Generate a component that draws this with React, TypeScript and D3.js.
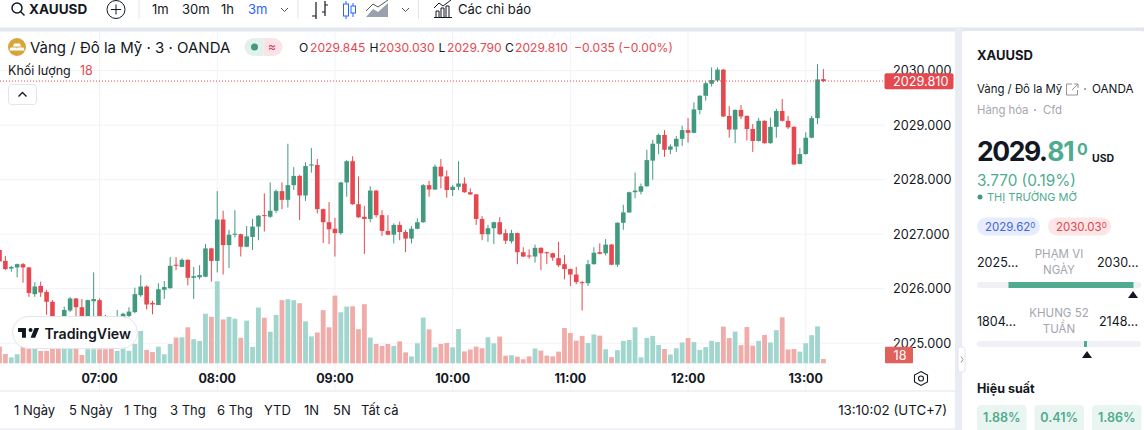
import * as d3 from "d3";

// 3 minute bars, first one at 06:09
const startMinute = 369;
const barMinutes = 3;

const opens = [
  2026.71, 2026.51, 2026.37, 2026.39, 2026.45, 2026.39, 2025.9, 2026.05, 2025.94, 2025.76,
  2025.46, 2025.46, 2025.6, 2025.82, 2025.66, 2025.46, 2025.77, 2025.79, 2025.5, 2025.39,
  2025.33, 2025.46, 2025.5, 2025.57, 2025.88, 2026.04, 2025.74, 2025.7, 2025.98, 2026.01,
  2026.44, 2026.4, 2026.53, 2026.2, 2026.21, 2026.22, 2026.74, 2026.51, 2027.27, 2026.8,
  2026.99, 2027.0, 2026.77, 2026.95, 2027.14, 2027.35, 2027.32, 2027.43, 2027.79, 2027.63,
  2027.9, 2028.07, 2027.71, 2028.26, 2028.27, 2027.46, 2027.22, 2027.1, 2027.02, 2027.95,
  2028.34, 2027.55, 2027.32, 2027.28, 2027.8, 2027.35, 2027.06, 2026.99, 2027.17, 2027.04,
  2026.92, 2027.1, 2027.22, 2027.9, 2027.82, 2028.24, 2028.06, 2027.81, 2027.87, 2027.93,
  2027.77, 2027.73, 2027.28, 2027.0, 2027.11, 2027.22, 2027.02, 2026.87, 2027.02, 2026.67,
  2026.61, 2026.59, 2026.75, 2026.67, 2026.65, 2026.56, 2026.45, 2026.36, 2026.26, 2026.12,
  2026.1, 2026.45, 2026.67, 2026.65, 2026.81, 2026.44, 2027.21, 2027.4, 2027.77, 2027.78,
  2027.88, 2028.35, 2028.66, 2028.82, 2028.55, 2028.61, 2028.75, 2028.91, 2028.86, 2029.28,
  2029.54, 2029.76, 2029.82, 2030.02, 2029.17, 2028.92, 2029.28, 2029.17, 2028.93, 2028.71,
  2029.08, 2028.67, 2028.97, 2029.26, 2029.08, 2028.97, 2028.29, 2028.47, 2028.77, 2029.13,
  2029.845,
];

const highs = [
  2026.72, 2026.6, 2026.42, 2026.46, 2026.47, 2026.4, 2026.12, 2026.13, 2025.98, 2025.79,
  2025.47, 2025.67, 2025.85, 2025.83, 2025.81, 2025.8, 2026.3, 2025.82, 2025.52, 2025.41,
  2025.61, 2025.56, 2025.66, 2026.02, 2026.25, 2026.06, 2025.78, 2026.1, 2026.14, 2026.58,
  2026.58, 2026.56, 2026.54, 2026.4, 2026.43, 2026.82, 2026.75, 2027.79, 2027.43, 2027.08,
  2027.44, 2027.01, 2027.15, 2027.28, 2027.35, 2027.75, 2027.95, 2027.82, 2027.95, 2028.66,
  2028.23, 2028.09, 2028.32, 2028.58, 2028.38, 2027.47, 2027.59, 2027.3, 2027.96, 2028.36,
  2028.43, 2028.06, 2027.52, 2027.88, 2027.81, 2027.44, 2027.35, 2027.2, 2027.23, 2027.08,
  2027.15, 2027.29, 2027.92, 2027.98, 2028.28, 2028.38, 2028.17, 2027.9, 2028.34, 2028.04,
  2027.84, 2027.74, 2027.33, 2027.17, 2027.23, 2027.31, 2027.09, 2027.08, 2027.03, 2026.76,
  2026.72, 2026.81, 2026.76, 2026.68, 2026.66, 2026.86, 2026.62, 2026.37, 2026.4, 2026.14,
  2026.53, 2026.76, 2026.83, 2026.91, 2026.82, 2027.22, 2027.54, 2027.78, 2028.13, 2027.93,
  2028.55, 2028.73, 2028.85, 2028.91, 2028.65, 2028.8, 2028.99, 2029.13, 2029.42, 2029.55,
  2029.8, 2030.06, 2030.06, 2030.03, 2029.35, 2029.29, 2029.37, 2029.18, 2029.02, 2029.13,
  2029.09, 2029.14, 2029.3, 2029.48, 2029.17, 2028.98, 2028.58, 2028.87, 2029.17, 2030.12,
  2030.03,
];

const lows = [
  2026.48, 2026.34, 2026.31, 2026.21, 2026.11, 2025.85, 2025.85, 2025.85, 2025.52, 2025.39,
  2025.28, 2025.42, 2025.57, 2025.49, 2025.43, 2025.43, 2025.49, 2025.48, 2025.35, 2025.28,
  2025.28, 2025.42, 2025.48, 2025.55, 2025.85, 2025.62, 2025.53, 2025.7, 2025.81, 2026.0,
  2026.34, 2026.4, 2026.06, 2025.81, 2026.17, 2026.21, 2026.13, 2026.3, 2026.26, 2026.38,
  2026.94, 2026.59, 2026.76, 2026.71, 2026.89, 2027.05, 2027.3, 2027.39, 2027.46, 2027.49,
  2027.81, 2027.26, 2027.61, 2028.13, 2027.38, 2026.84, 2026.82, 2026.59, 2026.99, 2027.69,
  2027.54, 2027.3, 2026.64, 2027.22, 2027.31, 2026.97, 2026.98, 2026.83, 2026.89, 2026.67,
  2026.83, 2027.09, 2027.21, 2027.69, 2027.81, 2027.84, 2027.67, 2027.7, 2027.81, 2027.76,
  2027.72, 2027.17, 2026.89, 2026.86, 2026.82, 2026.99, 2026.82, 2026.83, 2026.45, 2026.58,
  2026.55, 2026.48, 2026.34, 2026.45, 2026.51, 2026.4, 2026.17, 2026.05, 2026.08, 2025.6,
  2026.05, 2026.44, 2026.63, 2026.61, 2026.43, 2026.4, 2027.08, 2027.39, 2027.66, 2027.73,
  2027.87, 2028.0, 2028.47, 2028.42, 2028.47, 2028.51, 2028.62, 2028.68, 2028.85, 2029.2,
  2029.45, 2029.71, 2029.79, 2029.15, 2028.77, 2028.67, 2029.11, 2028.72, 2028.51, 2028.7,
  2028.66, 2028.66, 2028.77, 2029.07, 2028.93, 2028.27, 2028.28, 2028.46, 2028.76, 2029.02,
  2029.79,
];

const closes = [
  2026.5, 2026.36, 2026.4, 2026.45, 2026.39, 2025.92, 2026.04, 2025.93, 2025.76, 2025.46,
  2025.33, 2025.61, 2025.82, 2025.66, 2025.48, 2025.79, 2025.81, 2025.5, 2025.39, 2025.33,
  2025.44, 2025.54, 2025.58, 2025.9, 2026.04, 2025.71, 2025.71, 2025.99, 2026.03, 2026.42,
  2026.42, 2026.53, 2026.2, 2026.23, 2026.25, 2026.74, 2026.51, 2027.27, 2026.8, 2026.99,
  2027.01, 2026.77, 2026.96, 2027.14, 2027.34, 2027.34, 2027.43, 2027.79, 2027.63, 2027.9,
  2028.07, 2027.71, 2028.25, 2028.28, 2027.46, 2027.22, 2027.09, 2027.02, 2027.95, 2028.34,
  2027.55, 2027.31, 2027.28, 2027.8, 2027.35, 2027.06, 2026.99, 2027.17, 2027.04, 2026.92,
  2027.1, 2027.22, 2027.9, 2027.82, 2028.24, 2028.06, 2027.81, 2027.87, 2027.93, 2027.77,
  2027.73, 2027.28, 2027.0, 2027.11, 2027.22, 2027.0, 2026.88, 2027.02, 2026.67, 2026.59,
  2026.59, 2026.75, 2026.65, 2026.65, 2026.57, 2026.43, 2026.36, 2026.26, 2026.12, 2026.1,
  2026.45, 2026.66, 2026.64, 2026.81, 2026.44, 2027.21, 2027.4, 2027.77, 2027.8, 2027.88,
  2028.36, 2028.66, 2028.82, 2028.55, 2028.61, 2028.75, 2028.91, 2028.86, 2029.29, 2029.54,
  2029.77, 2029.83, 2030.02, 2029.16, 2028.92, 2029.28, 2029.16, 2028.93, 2028.71, 2029.08,
  2028.67, 2028.97, 2029.26, 2029.08, 2028.96, 2028.28, 2028.47, 2028.77, 2029.13, 2029.84,
  2029.81,
];

const volumes = [
  70, 39, 25, 38, 71, 71, 60, 52, 52, 62,
  62, 62, 62, 62, 35, 59, 59, 59, 59, 62,
  52, 62, 52, 81, 136, 56, 47, 70, 38, 81,
  108, 109, 151, 101, 94, 208, 195, 344, 184, 195,
  187, 107, 179, 69, 234, 191, 132, 203, 265, 269,
  265, 252, 176, 113, 129, 223, 151, 284, 214, 238,
  239, 143, 248, 108, 81, 73, 81, 73, 92, 46,
  29, 84, 192, 142, 67, 81, 85, 67, 144, 50,
  58, 70, 63, 109, 84, 112, 32, 34, 28, 17,
  29, 62, 53, 32, 29, 49, 148, 127, 95, 115,
  85, 121, 116, 59, 26, 55, 94, 98, 151, 25,
  106, 115, 77, 60, 37, 63, 87, 106, 89, 56,
  68, 94, 89, 154, 106, 133, 76, 152, 74, 94,
  119, 87, 139, 193, 58, 60, 49, 84, 118, 155,
  18,
];

const priceTicks = [2025, 2026, 2027, 2028, 2029, 2030];
const hourTicks = [420, 480, 540, 600, 660, 720, 780];
const lastPrice = 2029.81;
const lastVolume = 18;

const rangeLabels = [
  { label: "1 Ngày", x: 14 },
  { label: "5 Ngày", x: 69 },
  { label: "1 Thg", x: 124 },
  { label: "3 Thg", x: 170 },
  { label: "6 Thg", x: 217 },
  { label: "YTD", x: 264 },
  { label: "1N", x: 304 },
  { label: "5N", x: 333 },
  { label: "Tất cả", x: 361 },
];
const intervals = [
  { label: "1m", x: 152 },
  { label: "30m", x: 182 },
  { label: "1h", x: 221 },
  { label: "3m", x: 248, active: true },
];
const performance = ["1.88%", "0.41%", "1.86%"];

const width = 1144;
const height = 430;
const font = "Inter, 'Liberation Sans', sans-serif";
const dark = "#131722";
const up = "#419a7f";
const down = "#e5484f";
const upSoft = "#a0d6cd";
const downSoft = "#f0aca8";
const grid = "#f1f2f6";
const border = "#e3e5ec";
const panelGreen = "#4fab8f";

export default function App() {
  const x = d3.scaleLinear().domain([369, 789]).range([-0.5, 823.4]);
  const y = d3.scaleLinear().domain([2025, 2030]).range([343.2, 70.7]);
  const vol = d3.scaleLinear().domain([0, 344]).range([363.3, 281.3]);
  const bars = d3.range(opens.length);
  const barX = (i: number) => x(startMinute + i * barMinutes);
  const clock = d3.timeFormat("%H:%M");
  const hourLabel = (m: number) => clock(new Date(2024, 0, 1, 0, m));
  const fixed = d3.format(".3f");

  return (
    <svg
      width={width}
      height={height}
      style={{ position: "absolute", left: 0, top: 0, background: "#fff" }}
      fontFamily={font}
    >
      {/* Toolbar */}
      <g fill={dark}>
        <circle cx={17} cy={8} r={5} fill="none" stroke={dark} strokeWidth={1.5} />
        <line x1={20.5} y1={11.5} x2={24.5} y2={15.5} stroke={dark} strokeWidth={1.5} />
        <text x={29} y={14} fontSize={13.5} fontWeight={700}>XAUUSD</text>
        <circle cx={116} cy={9.5} r={9} fill="none" stroke={dark} strokeWidth={1} />
        <path d="M111 9.5h10M116 4.5v10" stroke={dark} strokeWidth={1} />
        {intervals.map((d) => (
          <text key={d.label} x={d.x} y={14} fontSize={13} fill={d.active ? "#2962ff" : dark}>{d.label}</text>
        ))}
        <path d="M281 8l3.5 3.5L288 8" fill="none" stroke="#555" strokeWidth={1} />
        <path d="M402 8l3.5 3.5L409 8" fill="none" stroke="#555" strokeWidth={1} />
        <path d="M139 0v19M298 0v19M418.500 0v19" stroke={border} strokeWidth={1} />
        {/* bar style icons */}
        <path d="M316 2v17M316 16h-4M325 1v15M325 5h3M325 12h-3" fill="none" stroke={dark} strokeWidth={1.2} />
        <path d="M346 1v18M353 3v14" stroke="#2962ff" strokeWidth={1} />
        <rect x={343.500} y={4} width={5} height={12} fill="#fff" stroke="#2962ff" />
        <rect x={351} y={6} width={4.500} height={7} fill="#fff" stroke="#2962ff" />
        <path d="M366 17l7-8 5 3 10-9v14h-22z" fill="#9aa0ac" />
        <path d="M366 11l7-7 5 3 10-7" fill="none" stroke="#555" strokeWidth={1} />
        <path d="M434 17.500h18M436 17v-6h3v6M441 17v-9h3v9M446 17v-11h3v11M434 8l5-5 4 3 8-6" fill="none" stroke={dark} strokeWidth={1} />
        <text x={458} y={14} fontSize={13}>Các chỉ báo</text>
      </g>
      <rect x={0} y={27.500} width={width} height={4} fill="#e3e6ee" />

      {/* Grid */}
      <g stroke={grid} strokeWidth={1}>
        {priceTicks.map((p) => (
          <line key={p} x1={0} x2={885} y1={y(p)} y2={y(p)} />
        ))}
        {hourTicks.map((m) => (
          <line key={m} x1={x(m)} x2={x(m)} y1={32} y2={391} />
        ))}
      </g>

      {/* Volume */}
      {bars.map((i) => (
        <rect
          key={i}
          x={barX(i) - 2.4}
          width={4.8}
          y={vol(volumes[i])}
          height={vol(0) - vol(volumes[i])}
          fill={closes[i] >= opens[i] ? upSoft : downSoft}
        />
      ))}

      {/* Candles */}
      {bars.map((i) => {
        const color = closes[i] >= opens[i] ? up : down;
        const top = y(Math.max(opens[i], closes[i]));
        const bottom = y(Math.min(opens[i], closes[i]));
        return (
          <g key={i}>
            <line x1={barX(i)} x2={barX(i)} y1={y(highs[i])} y2={y(lows[i])} stroke={color} strokeWidth={1} />
            <rect x={barX(i) - 2.3} width={4.6} y={top} height={Math.max(bottom - top, 1)} fill={color} />
          </g>
        );
      })}

      {/* Last price line */}
      <line x1={0} x2={885} y1={y(lastPrice)} y2={y(lastPrice)} stroke={down} strokeWidth={1} strokeDasharray="1 2" />

      {/* Legend */}
      <circle cx={17} cy={47} r={9} fill="#d8a53a" />
      <path d="M14 43.500h6l1 3h-8zM10.500 47.500h6l1 3h-8zM17.500 47.500h6l1 3h-8z" fill="#fff" />
      <text x={30} y={52.500} fontSize={15} fill={dark}>Vàng / Đô la Mỹ · 3 · OANDA</text>
      <path d="M263.500 38h-10a9 9 0 0 0 0 18h10z" fill="#e2f1ec" />
      <path d="M263.500 38h10a9 9 0 0 1 0 18h-10z" fill="#fbe3e8" />
      <circle cx={254.500} cy={47} r={3.500} fill={up} />
      <text x={272} y={51} fontSize={12} textAnchor="middle" fill="#d8315b">≈</text>
      <text y={51.500} fontSize={12.100} fill={down}>
        <tspan x={299} fill={dark}>O</tspan><tspan x={310}>2029.845</tspan>
        <tspan x={369.500} fill={dark}>H</tspan><tspan x={379}>2030.030</tspan>
        <tspan x={438.500} fill={dark}>L</tspan><tspan x={447}>2029.790</tspan>
        <tspan x={505} fill={dark}>C</tspan><tspan x={515}>2029.810</tspan>
        <tspan x={574}>−0.035 (−0.00%)</tspan>
      </text>
      <text x={8} y={75} fontSize={12.500} fill={dark}>Khối lượng</text>
      <text x={80} y={75} fontSize={12.500} fill={down}>18</text>
      <rect x={8.500} y={84.500} width={28} height={20} rx={3} fill="#fff" stroke={border} />
      <path d="M18.500 96.500l4-4 4 4" fill="none" stroke={dark} strokeWidth={1.4} />

      {/* TradingView badge */}
      <rect x={12.500} y={316.500} width={125} height={32} rx={16} fill="#fff" stroke={border} />
      <path
        d="M14 6H2v6h6v9h6V6Zm14 15h-7l6-15h7l-6 15Zm-7-9a3 3 0 1 0 0-6 3 3 0 0 0 0 6Z"
        transform="translate(16.700,324) scale(0.66)"
        fill={dark}
      />
      <text x={44.500} y={338.500} fontSize={14.200} fontWeight={600} fill={dark}>TradingView</text>

      {/* Price axis */}
      <rect x={885} y={32} width={75} height={359} fill="#fff" />
      {priceTicks.map((p) => (
        <text key={p} x={893} y={y(p) + 4.500} fontSize={12.700} fill={dark}>{fixed(p)}</text>
      ))}
      <rect x={884.500} y={73.300} width={69} height={16} rx={2} fill={down} />
      <text x={893} y={y(lastPrice) + 4.500} fontSize={12.700} fill="#fff">{fixed(lastPrice)}</text>
      <rect x={885} y={346.700} width={28} height={16.600} rx={1} fill="#e0605a" />
      <text x={900} y={359.500} fontSize={12.700} textAnchor="middle" fill="#fff">{lastVolume}</text>

      {/* Time axis */}
      {hourTicks.map((m) => (
        <text key={m} x={x(m)} y={382.500} fontSize={12.500} fontWeight={700} textAnchor="middle" fill={dark}>
          {hourLabel(m)}
        </text>
      ))}
      <path d="M921 371.500l6.500 3.500v7l-6.500 3.500l-6.500-3.500v-7z" fill="none" stroke={dark} strokeWidth={1.1} />
      <circle cx={921} cy={378.500} r={2.500} fill="none" stroke={dark} strokeWidth={1.1} />
      <rect x={0} y={390.500} width={960} height={1} fill={border} />
      <rect x={0} y={428.500} width={960} height={1} fill={border} />

      {/* Range row */}
      {rangeLabels.map((d) => (
        <text key={d.label} x={d.x} y={415} fontSize={13} fill={dark}>{d.label}</text>
      ))}
      <text x={947} y={415} fontSize={13.300} textAnchor="end" fill={dark}>13:10:02 (UTC+7)</text>

      {/* Side panel */}
      <rect x={955} y={27.500} width={7} height={403} fill="#e9ecf3" />
      <rect x={962} y={31} width={182} height={400} rx={4} fill="#fff" />
      <rect x={958} y={347} width={7} height={25} rx={2} fill="#fff" stroke={border} />
      <path d="M961 356.500l2 3-2 3" fill="none" stroke="#9598a1" />

      <text x={977} y={59.500} fontSize={13} fontWeight={700} fill={dark}>XAUUSD</text>
      <text x={977} y={93} fontSize={11.400} fill={dark}>Vàng / Đô la Mỹ</text>
      <path d="M1072 84h-5.500v11h11v-5M1072 90l6-6M1074 84h4v4" fill="none" stroke="#888" strokeWidth={0.9} />
      <circle cx={1085} cy={89} r={1} fill="#888" />
      <text x={1092} y={93} fontSize={11.700} fill={dark}>OANDA</text>
      <text x={977} y={114} fontSize={11.300} fill="#a3a6af">Hàng hóa</text>
      <circle cx={1035} cy={110} r={1} fill="#a3a6af" />
      <text x={1043} y={114} fontSize={11.300} fill="#a3a6af">Cfd</text>

      <text x={977} y={161} fontSize={26.500} fontWeight={700} letterSpacing={-1.4} fill={dark}>
        2029.<tspan fill={panelGreen} dx={1.5}>81</tspan>
        <tspan fill={panelGreen} fontSize={16} letterSpacing={0} x={1077} dy={-6.5}>0</tspan>
      </text>
      <text x={1092} y={161.500} fontSize={10.500} fontWeight={700} fill={dark}>USD</text>
      <text x={977} y={185.500} fontSize={15.300} fill={panelGreen}>3.770 (0.19%)</text>
      <circle cx={980} cy={197} r={2.500} fill={up} />
      <text x={987} y={201} fontSize={11} fill={panelGreen}>THỊ TRƯỜNG MỞ</text>

      <rect x={977} y={217.500} width={63} height={18} rx={9} fill="#e6ebfd" />
      <text x={985} y={230.500} fontSize={11.500} fill="#3f67d8">
        2029.62<tspan fontSize={8} dy={-3}>0</tspan>
      </text>
      <rect x={1048} y={217.500} width={63} height={18} rx={9} fill="#fce6e7" />
      <text x={1056} y={230.500} fontSize={11.500} fill="#e0454b">
        2030.03<tspan fontSize={8} dy={-3}>0</tspan>
      </text>

      <text x={977} y={267} fontSize={12.500} fill={dark}>2025…</text>
      <text x={1059} y={258} fontSize={11.500} textAnchor="middle" fill="#a3a6af">PHẠM VI</text>
      <text x={1059} y={274} fontSize={11.500} textAnchor="middle" fill="#a3a6af">NGÀY</text>
      <text x={1097} y={267} fontSize={12.500} fill={dark}>2030…</text>
      <rect x={977} y={282} width={164} height={6} rx={3} fill="#eff1f6" />
      <rect x={1008.500} y={282} width={125} height={6} fill={panelGreen} />
      <path d="M1133 291l5 7h-10z" fill={dark} />

      <text x={977} y={326} fontSize={12.500} fill={dark}>1804…</text>
      <text x={1059} y={317} fontSize={11.500} textAnchor="middle" fill="#a3a6af">KHUNG 52</text>
      <text x={1059} y={333} fontSize={11.500} textAnchor="middle" fill="#a3a6af">TUẦN</text>
      <text x={1099} y={326} fontSize={12.500} fill={dark}>2148…</text>
      <rect x={977} y={341} width={164} height={6} rx={3} fill="#eff1f6" />
      <rect x={1084} y={341} width={3} height={6} fill={panelGreen} />
      <path d="M1087 351l5 7h-10z" fill={dark} />

      <text x={977} y={393} fontSize={12.500} fontWeight={700} fill={dark}>Hiệu suất</text>
      {performance.map((p, i) => (
        <g key={p}>
          <rect x={977 + i * 57.500} y={405} width={49.500} height={30} rx={4} fill="#e9f5f1" />
          <text x={1001.700 + i * 57.500} y={422} fontSize={12.500} fontWeight={600} textAnchor="middle" fill={panelGreen}>{p}</text>
        </g>
      ))}
    </svg>
  );
}
